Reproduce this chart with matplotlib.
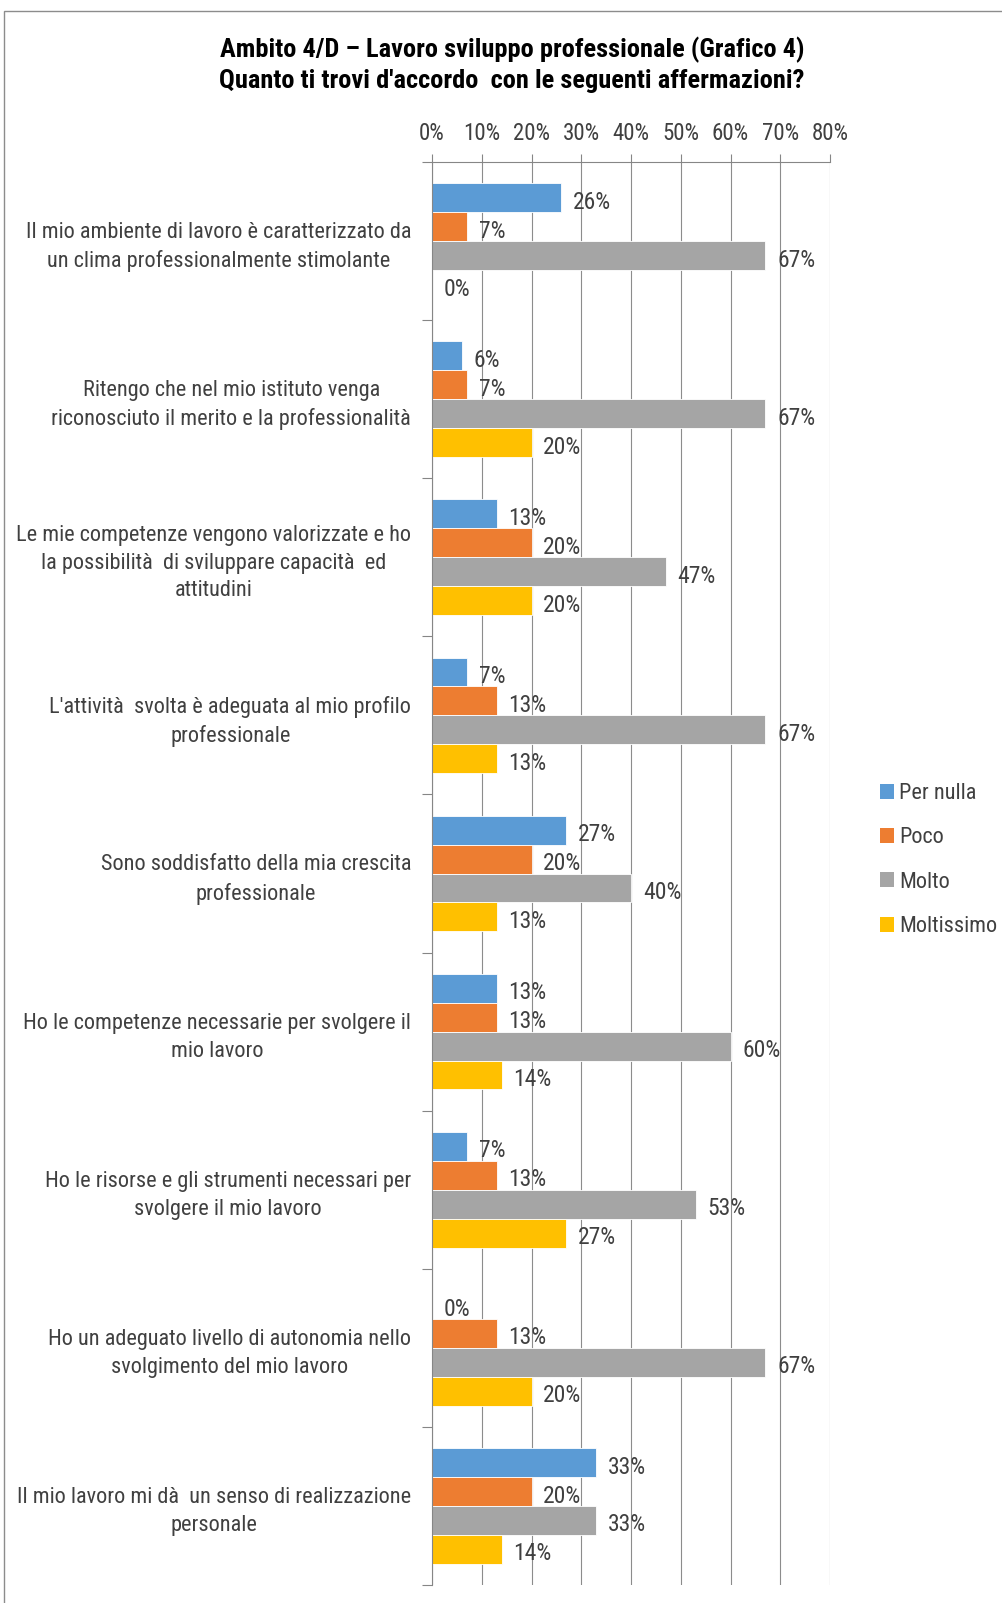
import matplotlib

matplotlib.use("Agg")

import matplotlib.pyplot as plt
import numpy as np
from matplotlib import font_manager
from matplotlib.patches import Patch, Rectangle

title = "Ambito 4/D – Lavoro sviluppo professionale (Grafico 4)\nQuanto ti trovi d'accordo  con le seguenti affermazioni?"

categories = [
    "Il mio ambiente di lavoro è caratterizzato da\nun clima professionalmente stimolante",
    "Ritengo che nel mio istituto venga\nriconosciuto il merito e la professionalità",
    "Le mie competenze vengono valorizzate e ho\nla possibilità  di sviluppare capacità  ed\nattitudini",
    "L'attività  svolta è adeguata al mio profilo\nprofessionale",
    "Sono soddisfatto della mia crescita\nprofessionale",
    "Ho le competenze necessarie per svolgere il\nmio lavoro",
    "Ho le risorse e gli strumenti necessari per\nsvolgere il mio lavoro",
    "Ho un adeguato livello di autonomia nello\nsvolgimento del mio lavoro",
    "Il mio lavoro mi dà  un senso di realizzazione\npersonale",
]
series_names = ["Per nulla", "Poco", "Molto", "Moltissimo"]
per_nulla = [26, 6, 13, 7, 27, 13, 7, 0, 33]
poco = [7, 7, 20, 13, 20, 13, 13, 13, 20]
molto = [67, 67, 47, 67, 40, 60, 53, 67, 33]
moltissimo = [0, 20, 20, 13, 13, 14, 27, 20, 14]
x_ticks = [0, 10, 20, 30, 40, 50, 60, 70, 80]

colors = ["#5b9bd5", "#ed7d31", "#a5a5a5", "#ffc000"]
text_color = "#404040"

# pick a condensed face if one is there, else fall back
available = {f.name for f in font_manager.fontManager.ttflist}
family = ["DejaVu Sans"]
for name in ["Liberation Sans Narrow", "Roboto Condensed", "Open Sans Condensed"]:
    if name in available:
        family = [name, "DejaVu Sans"]
        break
plt.rcParams["font.family"] = family

W, H = 1003, 1603
fig = plt.figure(figsize=(W / 100, H / 100), dpi=100)
fig.patches.append(Rectangle((4 / W, -0.1), 1.2, 1 - 11 / H + 0.1, transform=fig.transFigure,
                             facecolor="none", edgecolor="#8c8c8c", linewidth=1.0))

ax = fig.add_axes([432 / W, 1 - 1585 / H, (830 - 432) / W, (1585 - 162) / H])

data = [per_nulla, poco, molto, moltissimo]
n_cat = len(categories)
bar_h = 0.183
centers = np.arange(n_cat) + 0.5
for j, (vals, name) in enumerate(zip(data, series_names)):
    ys = centers + (j - 1.5) * bar_h
    bars = ax.barh(ys, vals, height=bar_h, color=colors[j], label=name, edgecolor="white", linewidth=0.6)
    for b, v in zip(bars, vals):
        ax.annotate(f"{v}%", (b.get_width(), b.get_y() + b.get_height() / 2),
                    xytext=(8.5, -1.5), textcoords="offset points", va="center_baseline", ha="left",
                    fontsize=17, color=text_color)

ax.set_xlim(0, 80)
ax.set_ylim(n_cat, 0)
ax.xaxis.tick_top()
ax.set_xticks(x_ticks)
ax.set_xticklabels([f"{t}%" for t in x_ticks], fontsize=16.5, color=text_color)
ax.tick_params(axis="x", length=6, color="#868686", pad=6.5)
ax.set_yticks(np.arange(n_cat + 1))
ax.set_yticklabels([])
ax.tick_params(axis="y", which="major", length=7, color="#868686")
ax.set_yticks(centers, minor=True)
ax.set_yticklabels(categories, minor=True, fontsize=16, color=text_color, ha="right", multialignment="center",
                   linespacing=1.42)
ax.tick_params(axis="y", which="minor", length=0, pad=15)
ax.grid(axis="x", color="#8c8c8c", linewidth=0.8)
ax.set_axisbelow(True)
for side in ["right", "bottom"]:
    ax.spines[side].set_visible(False)
ax.spines["top"].set_color("#868686")
ax.spines["left"].set_color("#868686")

handles = [Patch(facecolor=c, edgecolor="none") for c in colors]
fig.legend(handles, series_names, loc="center left", bbox_to_anchor=(880 / W, 1 - 860 / H),
           frameon=False, fontsize=16, labelcolor=text_color, handlelength=0.65, handleheight=0.65,
           handletextpad=0.2, labelspacing=1.05, borderpad=0, borderaxespad=0)

fig.text(512 / W, 1 - 65 / H, title, ha="center", va="center", fontsize=19, fontweight="bold",
         linespacing=1.35, color="black")

fig.savefig("out.png", dpi=100)
plt.close(fig)
